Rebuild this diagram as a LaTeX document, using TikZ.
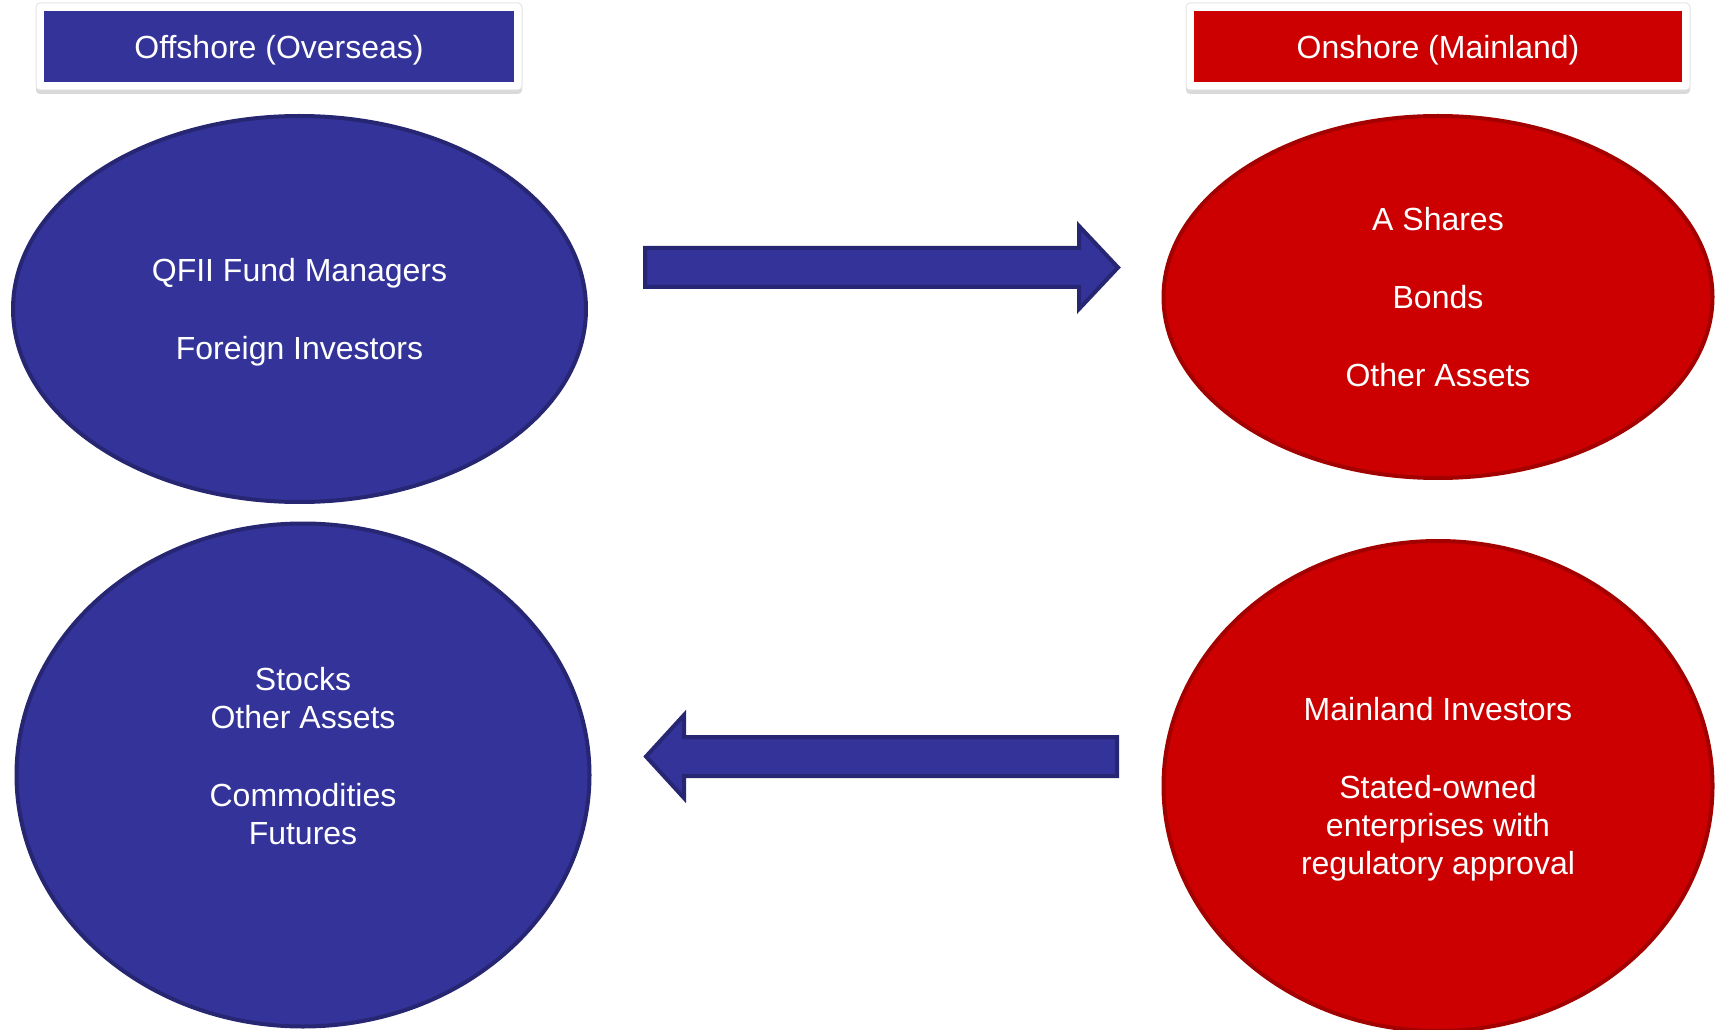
\documentclass[tikz,border=0pt]{standalone}
\usepackage{fontspec}
\setmainfont{Liberation Sans}
\usepackage{tikz}
\usetikzlibrary{shapes.geometric,shadows}

\definecolor{offblue}{HTML}{333399}
\definecolor{offblueline}{HTML}{262673}
\definecolor{onred}{HTML}{CC0000}
\definecolor{onredline}{HTML}{A30000}

\begin{document}
\begin{tikzpicture}[
x=0.75pt,y=-0.75pt,
font=\fontsize{24}{28.4}\selectfont,
frame/.style={fill=white,draw=black!10,line width=.75pt,rounded corners=3pt,inner sep=0pt,minimum height=65.25pt,drop shadow={shadow xshift=0pt,shadow yshift=-3pt,opacity=.3}},
title/.style={text=white,inner sep=0pt,minimum height=53.25pt,text depth=0pt,text height=18pt},
blob/.style={ellipse,line width=3pt,text=white,align=center,inner sep=0pt,text depth=0pt},
offside/.style={fill=offblue,draw=offblueline},
onside/.style={fill=onred,draw=onredline},
flow/.style={fill=offblue,draw=offblueline,line width=3pt,line join=miter}
]
\useasboundingbox (0,0) rectangle (1717,1030);

\node[frame,minimum width=364.5pt] (offframe) at (279,46.5) {};
\node[title,fill=offblue,minimum width=352.5pt] (offtitle) at (offframe) {Offshore (Overseas)};
\node[frame,minimum width=378pt] (onframe) at (1438,46.5) {};
\node[title,fill=onred,minimum width=366pt] (ontitle) at (onframe) {Onshore (Mainland)};

\node[blob,offside,minimum width=429.75pt,minimum height=289.5pt] (investors) at (299.5,309) {QFII Fund Managers\\[30pt]Foreign Investors};
\node[blob,onside,minimum width=411.75pt,minimum height=271.5pt] (assets) at (1438,297) {A Shares\\[30pt]Bonds\\[30pt]Other Assets};
\node[blob,offside,minimum width=429.75pt,minimum height=377.25pt] (markets) at (303,775) {Stocks\\Other Assets\\[30pt]Commodities\\Futures\\\mbox{}};
\node[blob,onside,minimum width=411.75pt,minimum height=367.5pt] (mainland) at (1438,786) {Mainland Investors\\[30pt]Stated-owned\\enterprises with\\regulatory approval};

\draw[flow] (645,248) -- (1079,248) -- (1079,226) -- (1118,267.5) -- (1079,309) -- (1079,287) -- (645,287) -- cycle;
\draw[flow] (1117,737) -- (684,737) -- (684,715) -- (646,756.5) -- (684,798) -- (684,776) -- (1117,776) -- cycle;
\end{tikzpicture}
\end{document}
